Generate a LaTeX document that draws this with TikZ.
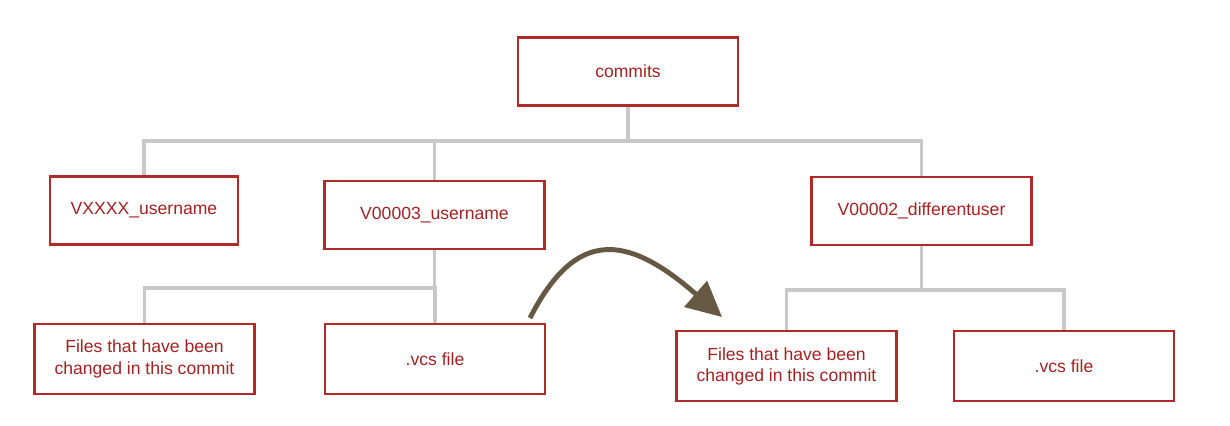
\documentclass[tikz,border=0pt]{standalone}
\usepackage{fontspec}
\setmainfont{Liberation Sans}
\usetikzlibrary{arrows.meta, positioning}
\definecolor{boxRed}{HTML}{B02A2A}
\definecolor{txtRed}{HTML}{A32222}
\definecolor{linkGrey}{HTML}{C8C8C8}
\definecolor{moveBrown}{HTML}{665944}

\begin{document}
\begin{tikzpicture}[x=0.025cm, y=-0.025cm,
   dir/.style={rectangle, draw=boxRed, line width=1.6pt, fill=white,
               text=txtRed, minimum width=5.5cm, minimum height=1.7cm,
               align=center, font=\fontsize{12.5}{15}\selectfont},
   link/.style={draw=linkGrey, line width=2.2pt},
   move/.style={moveBrown, line width=3.5pt,
                -{Triangle[length=25pt, width=24pt]}}]

\useasboundingbox (0,0) rectangle (1230,426);

% top level
\node[dir] (commits) at (628,71.5) {commits};

% one folder per commit
\node[dir, minimum width=4.7cm] (vx) at (144,210.5) {VXXXX\_username};
\node[dir] (v3) at (434.5,215) {V00003\_username};
\node[dir] (v2) at (921.5,211) {V00002\_differentuser};

% contents of each commit
\node[dir, minimum height=1.75cm] (filesA) at (144.5,359)
  {Files that have been\\changed in this commit};
\node[dir, minimum height=1.75cm] (vcsA) at (435,359) {.vcs file};
\node[dir, minimum height=1.75cm] (filesB) at (786.5,366)
  {Files that have been\\changed in this commit};
\node[dir, minimum height=1.75cm] (vcsB) at (1064,366) {.vcs file};

% tree lines
\coordinate (hub) at (628,141);
\coordinate (hubA) at (434.5,288);
\coordinate (hubB) at (921.5,290);

\draw[link] (commits.south) -- (hub);
\foreach \t in {vx,v3,v2}
  \draw[link] (hub) -| (\t.north);

\draw[link] (v3.south) -- (hubA);
\foreach \t in {filesA,vcsA}
  \draw[link] (hubA) -| (\t.north);

\draw[link] (v2.south) -- (hubB);
\foreach \t in {filesB,vcsB}
  \draw[link] (hubB) -| (\t.north);

% the move arrow
\coordinate (from) at (530,318);
\coordinate (to) at (722,317);
\draw[move] (from) .. controls (575,230) and (625,232) .. (to);
\end{tikzpicture}
\end{document}
